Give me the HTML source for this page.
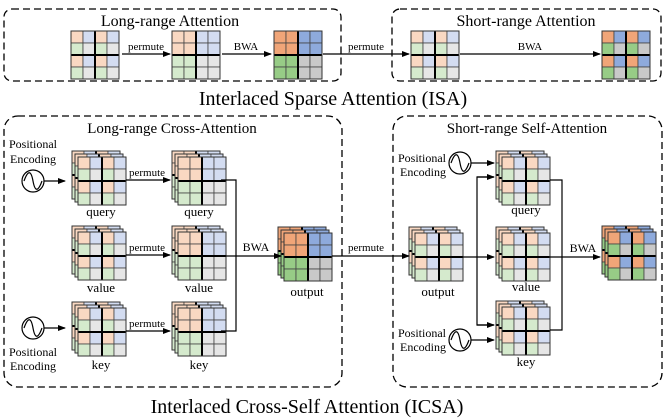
<!DOCTYPE html>
<html><head><meta charset="utf-8"><style>
html,body{margin:0;padding:0;background:#fff;}
svg{display:block;font-family:"Liberation Serif",serif;}
</style></head><body>
<svg id="s" width="665" height="419" viewBox="0 0 665 419" xmlns="http://www.w3.org/2000/svg">
<defs><marker id="ah" markerWidth="8" markerHeight="6" refX="7" refY="3" orient="auto" markerUnits="userSpaceOnUse"><path d="M0,0 L8,3 L0,6 z" fill="#000"/></marker></defs>
<g fill="none" stroke="#000" stroke-width="1.3" stroke-dasharray="7,4">
<rect x="4" y="9" width="337" height="72" rx="8"/>
<rect x="392" y="9" width="269" height="72" rx="8"/>
<rect x="4" y="116" width="338" height="271" rx="14"/>
<rect x="393" y="116" width="269" height="271" rx="14"/>
</g>
<g id="grids"></g>
<g stroke="#000" stroke-width="1.2" fill="none">
<line x1="122" y1="54" x2="170" y2="54" marker-end="url(#ah)"/>
<line x1="222" y1="54" x2="271" y2="54" marker-end="url(#ah)"/>
<line x1="323" y1="54" x2="409" y2="54" marker-end="url(#ah)"/>
<line x1="460" y1="54" x2="600" y2="54" marker-end="url(#ah)"/>
<circle cx="33" cy="181" r="11"/><path d="M24,181 C28,170 31,170 33,181 C35,192 38,192 42,181"/>
<line x1="44" y1="181" x2="65" y2="181" marker-end="url(#ah)"/>
<circle cx="33" cy="328" r="11"/><path d="M24,328 C28,317 31,317 33,328 C35,339 38,339 42,328"/>
<line x1="44" y1="328" x2="65" y2="328" marker-end="url(#ah)"/>
<line x1="126" y1="180" x2="170" y2="180" marker-end="url(#ah)"/>
<line x1="126" y1="255" x2="170" y2="255" marker-end="url(#ah)"/>
<line x1="126" y1="331" x2="170" y2="331" marker-end="url(#ah)"/>
<polyline points="221,180 236,180 236,331 221,331"/>
<line x1="221" y1="256" x2="281" y2="256" marker-end="url(#ah)"/>
<line x1="332" y1="256" x2="409" y2="256" marker-end="url(#ah)"/>
<circle cx="460" cy="163" r="11"/><path d="M451,163 C455,152 458,152 460,163 C462,174 465,174 469,163"/>
<line x1="471" y1="163" x2="494" y2="163" marker-end="url(#ah)"/>
<circle cx="460" cy="340" r="11"/><path d="M451,340 C455,329 458,329 460,340 C462,351 465,351 469,340"/>
<line x1="471" y1="340" x2="494" y2="340" marker-end="url(#ah)"/>
<line x1="462" y1="257" x2="494" y2="257" marker-end="url(#ah)"/>
<polyline points="494,177 477,177 477,325 494,325"/>
<line x1="477" y1="177" x2="494" y2="177" marker-end="url(#ah)"/>
<line x1="477" y1="325" x2="494" y2="325" marker-end="url(#ah)"/>
<polyline points="550,180 562,180 562,330 550,330"/>
<line x1="550" y1="257" x2="600" y2="257" marker-end="url(#ah)"/>
</g>
<g fill="#000">
<text x="170" y="26" font-size="16" text-anchor="middle">Long-range Attention</text>
<text x="526" y="26" font-size="16" text-anchor="middle">Short-range Attention</text>
<text x="333" y="105" font-size="20" text-anchor="middle">Interlaced Sparse Attention (ISA)</text>
<text x="146" y="50" font-size="11" text-anchor="middle">permute</text>
<text x="246" y="50" font-size="11" text-anchor="middle">BWA</text>
<text x="366" y="50" font-size="11" text-anchor="middle">permute</text>
<text x="530" y="50" font-size="11" text-anchor="middle">BWA</text>
<text x="172" y="133" font-size="15" text-anchor="middle">Long-range Cross-Attention</text>
<text x="527" y="133" font-size="15" text-anchor="middle">Short-range Self-Attention</text>
<text x="307" y="413" font-size="20" text-anchor="middle">Interlaced Cross-Self Attention (ICSA)</text>
<text x="33" y="148" font-size="12" text-anchor="middle">Positional</text>
<text x="33" y="163" font-size="12" text-anchor="middle">Encoding</text>
<text x="33" y="356" font-size="12" text-anchor="middle">Positional</text>
<text x="33" y="370" font-size="12" text-anchor="middle">Encoding</text>
<text x="446" y="162" font-size="12" text-anchor="end">Positional</text>
<text x="446" y="176" font-size="12" text-anchor="end">Encoding</text>
<text x="446" y="337" font-size="12" text-anchor="end">Positional</text>
<text x="446" y="351" font-size="12" text-anchor="end">Encoding</text>
<text x="147" y="176" font-size="11" text-anchor="middle">permute</text>
<text x="147" y="251" font-size="11" text-anchor="middle">permute</text>
<text x="147" y="327" font-size="11" text-anchor="middle">permute</text>
<text x="256" y="251" font-size="12" text-anchor="middle">BWA</text>
<text x="366" y="251" font-size="11" text-anchor="middle">permute</text>
<text x="583" y="252" font-size="12" text-anchor="middle">BWA</text>
<text x="101" y="216" font-size="13" text-anchor="middle">query</text>
<text x="199" y="216" font-size="13" text-anchor="middle">query</text>
<text x="101" y="292" font-size="13" text-anchor="middle">value</text>
<text x="199" y="292" font-size="13" text-anchor="middle">value</text>
<text x="101" y="369" font-size="13" text-anchor="middle">key</text>
<text x="199" y="369" font-size="13" text-anchor="middle">key</text>
<text x="307" y="296" font-size="13" text-anchor="middle">output</text>
<text x="438" y="296" font-size="13" text-anchor="middle">output</text>
<text x="526" y="214" font-size="13" text-anchor="middle">query</text>
<text x="526" y="291" font-size="13" text-anchor="middle">value</text>
<text x="526" y="366" font-size="13" text-anchor="middle">key</text>
</g>
</svg>
<script>
var L={O:"#f9d8c2",B:"#d3dcf1",G:"#d5eacd",Y:"#e6e6e6"},D={O:"#f0a578",B:"#8eaadc",G:"#97cc86",Y:"#c9c9c9"};
var IL=[["O","B","O","B"],["G","Y","G","Y"],["O","B","O","B"],["G","Y","G","Y"]];
var BL=[["O","O","B","B"],["O","O","B","B"],["G","G","Y","Y"],["G","G","Y","Y"]];
var g=document.getElementById("grids"),h="";
function grid(x,y,w,pat,pal){var c=w/4,s="";
for(var r=0;r<4;r++)for(var k=0;k<4;k++)s+='<rect x="'+(x+k*c)+'" y="'+(y+r*c)+'" width="'+c+'" height="'+c+'" fill="'+pal[pat[r][k]]+'" stroke="#444" stroke-width="0.8"/>';
s+='<line x1="'+(x+2*c)+'" y1="'+y+'" x2="'+(x+2*c)+'" y2="'+(y+w)+'" stroke="#000" stroke-width="2"/>';
s+='<line x1="'+x+'" y1="'+(y+2*c)+'" x2="'+(x+w)+'" y2="'+(y+2*c)+'" stroke="#000" stroke-width="2"/>';
s+='<rect x="'+x+'" y="'+y+'" width="'+w+'" height="'+w+'" fill="none" stroke="#333" stroke-width="1"/>';return s;}
function stack(x,y,w,pat,pal){return grid(x-6,y-6,w,pat,pal)+grid(x-3,y-3,w,pat,pal)+grid(x,y,w,pat,pal);}
h+=grid(71,31,48,IL,L)+grid(172,31,48,BL,L)+grid(274,31,48,BL,D)+grid(411,31,48,IL,L)+grid(602,31,48,IL,D);
h+=stack(78,157,48,IL,L)+stack(178,157,48,BL,L)+stack(78,232,48,IL,L)+stack(178,232,48,BL,L)+stack(78,308,48,IL,L)+stack(178,308,48,BL,L);
h+=stack(284,233,48,BL,D)+stack(415,233,48,IL,L)+stack(502,157,48,IL,L)+stack(502,233,48,IL,L)+stack(502,307,48,IL,L)+stack(608,232,48,IL,D);
g.innerHTML=h;
</script>
</body></html>
